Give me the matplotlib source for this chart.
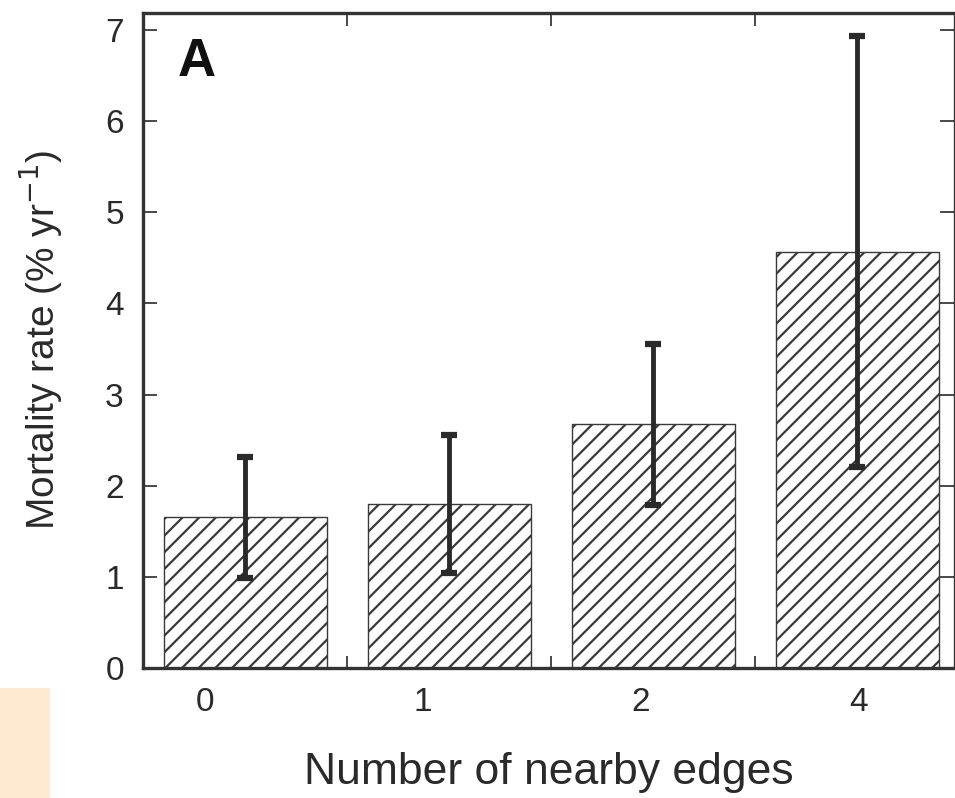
import matplotlib.pyplot as plt
import matplotlib.patches as mpatches
import numpy as np

plt.rcParams['font.family'] = ['Liberation Sans', 'DejaVu Sans']
plt.rcParams['hatch.linewidth'] = 1.6

# data
edges = ["0", "1", "2", "4"]
rate = [1.66, 1.80, 2.68, 4.57]
err_upper = [2.32, 2.56, 3.55, 6.93]
err_lower = [0.99, 1.04, 1.79, 2.21]
# the tick labels in the original sit a bit off the bar centres
label_pos = [-0.196, 0.868, 1.936, 3.005]

dark = '#2a2a2a'
x = np.arange(len(edges))
yerr = [np.array(rate) - np.array(err_lower), np.array(err_upper) - np.array(rate)]

fig = plt.figure(figsize=(9.55, 7.98), dpi=100)
ax = fig.add_axes([0.150, 0.163, 0.849, 0.821])

ax.bar(x, rate, width=0.8, color='white', edgecolor='#3a3a3a', linewidth=1.0,
       hatch='//', zorder=2)
ax.errorbar(x, rate, yerr=yerr, fmt='none', ecolor=dark, elinewidth=3.5,
            capsize=6, capthick=4.5, zorder=3)

ax.set_xlim(-0.5, 3.475)
ax.set_ylim(0, 7.19)
ax.set_xticks(label_pos)
ax.set_xticklabels(edges)
ax.set_xticks([0.5, 1.5, 2.5], minor=True)
ax.set_yticks(range(8))

ax.tick_params(axis='x', which='major', length=0, pad=14, labelsize=24, colors=dark)
ax.tick_params(axis='x', which='minor', direction='in', length=9, width=1.2,
               top=True, bottom=True, color=dark)
ax.tick_params(axis='y', which='major', direction='in', length=10, width=1.2,
               left=True, right=True, pad=14, labelsize=24, colors=dark)

for s in ax.spines.values():
    s.set_linewidth(2.4)
    s.set_color('#333333')
ax.spines['right'].set_linewidth(1.0)

ax.set_xlabel('Number of nearby edges', fontsize=32, color=dark, labelpad=24)
ax.set_ylabel('Mortality rate (% yr$^{-1}$)', fontsize=28, color=dark, labelpad=30)

ax.text(0.043, 0.963, 'A', transform=ax.transAxes, ha='left', va='top',
        fontsize=38, fontweight='bold', color='#111111')

# peach box in lower-left corner
fig.patches.append(mpatches.Rectangle((0, 0), 50 / 955, 110 / 798,
                                      transform=fig.transFigure,
                                      facecolor='#fdead0', edgecolor='none'))

fig.savefig('out.png', dpi=100)
